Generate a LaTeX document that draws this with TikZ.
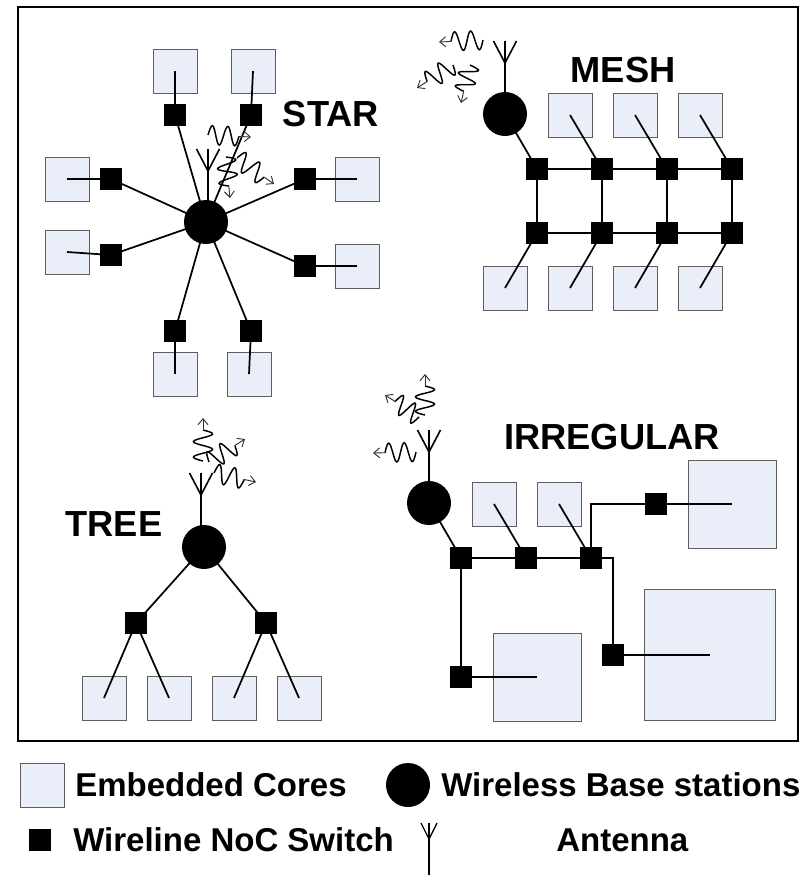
\documentclass[tikz,border=0pt]{standalone}
\usepackage{fontspec}
\setmainfont{Liberation Sans}
\usetikzlibrary{arrows.meta,calc}
\definecolor{corefill}{HTML}{E9EEF8}
\definecolor{coreline}{HTML}{5E5E5E}
\tikzset{
  core/.style={draw=coreline,fill=corefill,line width=0.7pt,minimum size=#1*0.75pt,inner sep=0pt,outer sep=0pt},
  core/.default=44,
  sw/.style={fill=black,minimum size=16.5pt,inner sep=0pt,outer sep=0pt},
  hub/.style={circle,fill=black,minimum size=33pt,inner sep=0pt,outer sep=0pt},
  link/.style={line width=1.3pt,black},
  ant/.style={line width=1.2pt,black},
  wv/.style={line width=1.1pt,black},
  wvend/.style={line width=0.7pt,black!80,-{Straight Barb[length=4.5pt,width=7.5pt]}},
  title/.style={font=\fontsize{27.2}{30}\selectfont\bfseries,inner sep=0pt},
  leg/.style={font=\fontsize{24.75}{28}\selectfont\bfseries,inner sep=0pt,anchor=west},
}
\newcommand{\wavearrow}[4]{%
  \pgfmathsetmacro{\wlen}{veclen(#3-#1,#4-#2)}%
  \pgfmathsetmacro{\wang}{atan2(#4-#2,#3-#1)}%
  \pgfmathsetmacro{\wpart}{\wlen-12}%
  \begin{scope}[shift={(#1,#2)},rotate=-\wang]
    \draw[wv] plot[smooth,samples=41,domain=0:\wpart] (\x,{-9.5*sin(\x/\wpart*720)});
    \draw[wvend] (\wpart,0) -- (\wlen,0);
  \end{scope}}
\newcommand{\antennaat}[6]{% name, x, top, vertex, half width, hub/bottom target
  \coordinate (#1t) at (#2,#3);
  \coordinate (#1v) at (#2,#4);
  \coordinate (#1l) at (#2-#5,#3);
  \coordinate (#1r) at (#2+#5,#3);
  \draw[ant] (#1t) -- (#6);
  \draw[ant] (#1l) -- (#1v) -- (#1r);}
\begin{document}
\begin{tikzpicture}[x=0.75pt,y=-0.75pt]
\useasboundingbox (0,0) rectangle (810,875);
\node[draw=black,line width=2.2pt,minimum width=585pt,minimum height=550.5pt,inner sep=0pt] (frame) at (408,374) {};

% STAR
\foreach \n/\x/\y in {sc1/175/71,sc2/253/71,sc3/67/179,sc4/67/252,sc5/357/179,sc6/357/266,sc7/175/374,sc8/249/374}
  \node[core] (\n) at (\x,\y) {};
\foreach \n/\x/\y in {ss1/175/115,ss2/251/115,ss3/111/179,ss4/111/255,ss5/305/179,ss6/305/266,ss7/175/331,ss8/251/331}
  \node[sw] (\n) at (\x,\y) {};
\node[hub] (sh) at (206,222) {};
\foreach \i in {1,...,8} {
  \draw[link] (sc\i.center) -- (ss\i.center);
  \draw[link] (ss\i.center) -- (sh.center);
}
\coordinate (sb) at (208,205);
\antennaat{sa}{208}{149}{171}{11.5}{sb}
\wavearrow{208}{135}{251}{137}
\wavearrow{237}{158}{274}{184}
\wavearrow{226}{157}{230}{198}
\node[title] (startitle) at (331,114) {STAR};

% MESH
\foreach \n/\x/\y in {mc1/570/115,mc2/635/115,mc3/700/115,mc4/505/288,mc5/570/288,mc6/635/288,mc7/700/288}
  \node[core] (\n) at (\x,\y) {};
\foreach \n/\x/\y in {ma1/537/169,ma2/602/169,ma3/667/169,ma4/732/169,mb1/537/233,mb2/602/233,mb3/667/233,mb4/732/233}
  \node[sw] (\n) at (\x,\y) {};
\node[hub] (mh) at (505,114) {};
\draw[link] (mh.center) -- (ma1.center);
\draw[link] (ma1.center) -- (ma2.center) -- (ma3.center) -- (ma4.center) -- (mb4.center) -- (mb3.center) -- (mb2.center) -- (mb1.center) -- (ma1.center);
\draw[link] (ma2.center) -- (mb2.center);
\draw[link] (ma3.center) -- (mb3.center);
\draw[link] (mc1.center) -- (ma2.center);
\draw[link] (mc2.center) -- (ma3.center);
\draw[link] (mc3.center) -- (ma4.center);
\draw[link] (mc4.center) -- (mb1.center);
\draw[link] (mc5.center) -- (mb2.center);
\draw[link] (mc6.center) -- (mb3.center);
\draw[link] (mc7.center) -- (mb4.center);
\antennaat{ma}{505}{41}{63}{11.5}{mh.center}
\wavearrow{483}{40}{439}{42}
\wavearrow{453}{65}{417}{88}
\wavearrow{470}{65}{461}{103}
\node[title] (meshtitle) at (623,70) {MESH};

% TREE
\foreach \n/\x/\y in {tc1/104/698,tc2/169/698,tc3/234/698,tc4/299/698}
  \node[core] (\n) at (\x,\y) {};
\node[sw] (ts1) at (136,623) {};
\node[sw] (ts2) at (266,623) {};
\node[hub] (th) at (204,547) {};
\draw[link] (th.center) -- (ts1.center);
\draw[link] (th.center) -- (ts2.center);
\draw[link] (ts1.center) -- (tc1.center);
\draw[link] (ts1.center) -- (tc2.center);
\draw[link] (ts2.center) -- (tc3.center);
\draw[link] (ts2.center) -- (tc4.center);
\coordinate (tb) at (201,530);
\antennaat{ta}{201}{473}{495}{11.5}{tb}
\wavearrow{203}{461}{203}{418}
\wavearrow{209}{462}{245}{439}
\wavearrow{214}{473}{256}{482}
\node[title] (treetitle) at (114,524) {TREE};

% IRREGULAR
\node[core] (ic1) at (494,504) {};
\node[core] (ic2) at (559,504) {};
\node[core=88] (ic3) at (732,504) {};
\node[core=88] (ic4) at (537,677) {};
\node[core=131] (ic5) at (710,655) {};
\node[sw] (is1) at (461,558) {};
\node[sw] (is2) at (526,558) {};
\node[sw] (is3) at (591,558) {};
\node[sw] (is4) at (656,504) {};
\node[sw] (is5) at (461,677) {};
\node[sw] (is6) at (613,655) {};
\node[hub] (ih) at (429,503) {};
\draw[link] (ih.center) -- (is1.center);
\draw[link] (is1.center) -- (is2.center) -- (is3.center);
\draw[link] (is1.center) -- (is5.center);
\draw[link] (is2.center) -- (ic1.center);
\draw[link] (is3.center) -- (ic2.center);
\draw[link] (is3.center) |- (is4.center);
\draw[link] (is3.center) -| (is6.center);
\draw[link] (is4.center) -- (ic3.center);
\draw[link] (is5.center) -- (ic4.center);
\draw[link] (is6.center) -- (ic5.center);
\antennaat{ia}{429}{430}{452}{11.5}{ih.center}
\wavearrow{425}{415}{425}{374}
\wavearrow{419}{417}{385}{395}
\wavearrow{416}{452}{373}{453}
\node[title] (irrtitle) at (612,437) {IRREGULAR};

% LEGEND
\node[core] (lc) at (42,785) {};
\node[leg] (lct) at (75,785) {Embedded Cores};
\node[hub] (lh) at (408,785) {};
\node[leg] (lht) at (441,785) {Wireless Base stations};
\node[sw] (ls) at (40,840) {};
\node[leg] (lst) at (73,840) {Wireline NoC Switch};
\coordinate (lb) at (429,875);
\begin{scope}[ant/.append style={line width=1pt}]
\antennaat{la}{429}{823}{839}{8}{lb}
\end{scope}
\node[leg] (lat) at (556,840) {Antenna};
\end{tikzpicture}
\end{document}
